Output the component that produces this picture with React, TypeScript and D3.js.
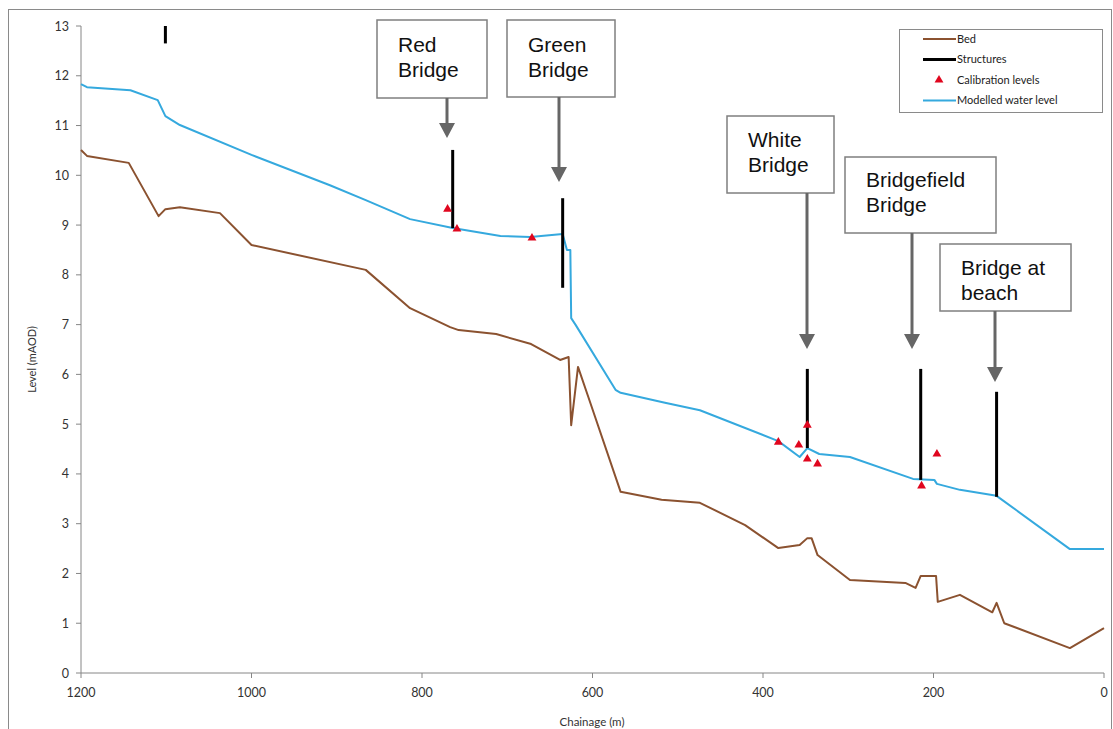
import React from "react";
import * as d3 from "d3";

// ---- data ----
const waterChainage = [1200, 1193, 1142, 1110, 1101, 1084, 1000, 908, 866, 814, 764, 708, 673, 635, 630, 626, 625, 620, 573, 567, 515, 474, 382, 357, 348, 334, 298, 224, 199, 196, 169, 126, 40, 0];
const waterLevel = [11.83, 11.77, 11.71, 11.51, 11.19, 11.01, 10.41, 9.8, 9.5, 9.12, 8.94, 8.78, 8.76, 8.82, 8.5, 8.5, 7.13, 7.0, 5.69, 5.63, 5.43, 5.28, 4.66, 4.34, 4.52, 4.4, 4.34, 3.9, 3.88, 3.8, 3.68, 3.56, 2.49, 2.49];

const bedChainage = [1200, 1193, 1144, 1109, 1101, 1084, 1037, 1000, 866, 814, 767, 757, 713, 672, 638, 628, 625, 617, 605, 573, 567, 519, 474, 421, 382, 357, 348, 343, 336, 298, 233, 221, 215, 197, 195, 169, 131, 126, 117, 40, 0];
const bedLevel = [10.51, 10.39, 10.25, 9.18, 9.32, 9.36, 9.24, 8.6, 8.1, 7.33, 6.95, 6.89, 6.81, 6.61, 6.29, 6.35, 4.98, 6.15, 5.55, 3.94, 3.64, 3.48, 3.42, 2.97, 2.51, 2.57, 2.71, 2.71, 2.37, 1.87, 1.81, 1.71, 1.95, 1.95, 1.43, 1.57, 1.22, 1.41, 1.0, 0.5, 0.9];

const structChainage = [1101, 764, 635, 348, 215, 126];
const structTop = [13.0, 10.51, 9.54, 6.11, 6.11, 5.65];
const structBottom = [12.65, 8.94, 7.74, 4.52, 3.88, 3.54];

const calChainage = [770, 759, 671, 382, 358, 348, 348, 336, 214, 196];
const calLevel = [9.32, 8.92, 8.74, 4.64, 4.58, 4.98, 4.3, 4.2, 3.76, 4.4];

const xTicks = [1200, 1000, 800, 600, 400, 200, 0];
const yTicks = [0, 1, 2, 3, 4, 5, 6, 7, 8, 9, 10, 11, 12, 13];

const legendLabels = ["Bed", "Structures", "Calibration levels", "Modelled water level"];

const calloutLines = [["Red", "Bridge"], ["Green", "Bridge"], ["White", "Bridge"], ["Bridgefield", "Bridge"], ["Bridge at", "beach"]];

// ---- layout ----
const W = 1113;
const H = 729;
const plot = { left: 81, right: 1104, top: 26, bottom: 673 };

const callouts = [
  { x0: 377, y0: 20, x1: 487, y1: 98, tx: 398, ty: 52, ax: 447, tip: 138 },
  { x0: 507, y0: 20, x1: 615, y1: 97, tx: 528, ty: 52, ax: 559, tip: 182 },
  { x0: 727, y0: 116, x1: 834, y1: 193, tx: 748, ty: 147, ax: 807, tip: 349 },
  { x0: 845, y0: 157, x1: 996, y1: 233, tx: 866, ty: 187, ax: 912, tip: 349 },
  { x0: 940, y0: 244, x1: 1071, y1: 311, tx: 961, ty: 275, ax: 995, tip: 382 },
];

const BROWN = "#8B5230";
const BLUE = "#35A9DE";
const RED = "#E0061E";
const AXIS = "#868686";
const FONT = "Lato, 'Open Sans', sans-serif";

export default function App() {
  const x = d3.scaleLinear().domain([1200, 0]).range([plot.left, plot.right]);
  const y = d3.scaleLinear().domain([0, 13]).range([plot.bottom, plot.top]);

  const line = d3
    .line<[number, number]>()
    .x((d) => x(d[0]))
    .y((d) => y(d[1]));

  const waterPath = line(waterChainage.map((c, i) => [c, waterLevel[i]]) as [number, number][]) || "";
  const bedPath = line(bedChainage.map((c, i) => [c, bedLevel[i]]) as [number, number][]) || "";
  const tri = d3.symbol().type(d3.symbolTriangle).size(34)() || "";

  return (
    <svg
      width={W}
      height={H}
      style={{ position: "absolute", left: 0, top: 0, background: "#fff" }}
      fontFamily={FONT}
    >
      <rect x={0} y={0} width={W} height={H} fill="#fff" />
      {/* outer frame */}
      <rect x={8.5} y={9.5} width={1103} height={740} fill="none" stroke="#8a8a8a" strokeWidth={1} />

      {/* axes */}
      <line x1={plot.left} x2={plot.left} y1={plot.top} y2={plot.bottom} stroke={AXIS} strokeWidth={1} />
      <line x1={plot.left} x2={plot.right} y1={plot.bottom} y2={plot.bottom} stroke={AXIS} strokeWidth={1} />
      {yTicks.map((t) => (
        <g key={"y" + t}>
          <line x1={plot.left - 5} x2={plot.left} y1={y(t)} y2={y(t)} stroke={AXIS} strokeWidth={1} />
          <text x={plot.left - 12} y={y(t)} dy="0.36em" textAnchor="end" fontSize={12.5} fill="#333">
            {t}
          </text>
        </g>
      ))}
      {xTicks.map((t) => (
        <g key={"x" + t}>
          <line x1={x(t)} x2={x(t)} y1={plot.bottom} y2={plot.bottom + 5} stroke={AXIS} strokeWidth={1} />
          <text x={x(t)} y={plot.bottom + 24} textAnchor="middle" fontSize={12.5} fill="#333">
            {t}
          </text>
        </g>
      ))}
      <text
        transform={`translate(36,${(plot.top + plot.bottom) / 2 + 10}) rotate(-90)`}
        textAnchor="middle"
        fontSize={11}
        fill="#333"
      >
        Level (mAOD)
      </text>
      <text x={592} y={726} textAnchor="middle" fontSize={11.5} fill="#333">
        Chainage (m)
      </text>

      {/* series */}
      <path d={bedPath} fill="none" stroke={BROWN} strokeWidth={2} strokeLinejoin="round" />
      <path d={waterPath} fill="none" stroke={BLUE} strokeWidth={2} strokeLinejoin="round" />
      {structChainage.map((c, i) => (
        <line
          key={"s" + i}
          x1={x(c)}
          x2={x(c)}
          y1={y(structTop[i])}
          y2={y(structBottom[i])}
          stroke="#000"
          strokeWidth={3}
        />
      ))}
      {calChainage.map((c, i) => (
        <path key={"c" + i} d={tri} transform={`translate(${x(c)},${y(calLevel[i])})`} fill={RED} />
      ))}

      {/* callouts */}
      {callouts.map((b, i) => (
        <g key={"b" + i}>
          <rect x={b.x0} y={b.y0} width={b.x1 - b.x0} height={b.y1 - b.y0} fill="#fff" stroke="#7f7f7f" strokeWidth={1.5} />
          {calloutLines[i].map((s, j) => (
            <text key={j} x={b.tx} y={b.ty + j * 25} fontSize={21} fontFamily="'Liberation Sans', Arial, sans-serif" fill="#111">
              {s}
            </text>
          ))}
          <line x1={b.ax} x2={b.ax} y1={b.y1} y2={b.tip - 12} stroke="#666" strokeWidth={3} />
          <path d={`M${b.ax - 8},${b.tip - 15} L${b.ax + 8},${b.tip - 15} L${b.ax},${b.tip} Z`} fill="#666" />
        </g>
      ))}

      {/* legend */}
      <rect x={899.5} y={29.5} width={203} height={83} fill="#fff" stroke="#8a8a8a" strokeWidth={1} />
      {legendLabels.map((l, i) => {
        const ly = 39 + i * 20.5;
        return (
          <g key={"l" + i}>
            {i === 0 && <line x1={923} x2={956} y1={ly} y2={ly} stroke={BROWN} strokeWidth={2} />}
            {i === 1 && <line x1={923} x2={956} y1={ly} y2={ly} stroke="#000" strokeWidth={3} />}
            {i === 2 && <path d={tri} transform={`translate(939,${ly})`} fill={RED} />}
            {i === 3 && <line x1={923} x2={956} y1={ly} y2={ly} stroke={BLUE} strokeWidth={2} />}
            <text x={957} y={ly} dy="0.35em" fontSize={11} fill="#222">
              {l}
            </text>
          </g>
        );
      })}
    </svg>
  );
}
